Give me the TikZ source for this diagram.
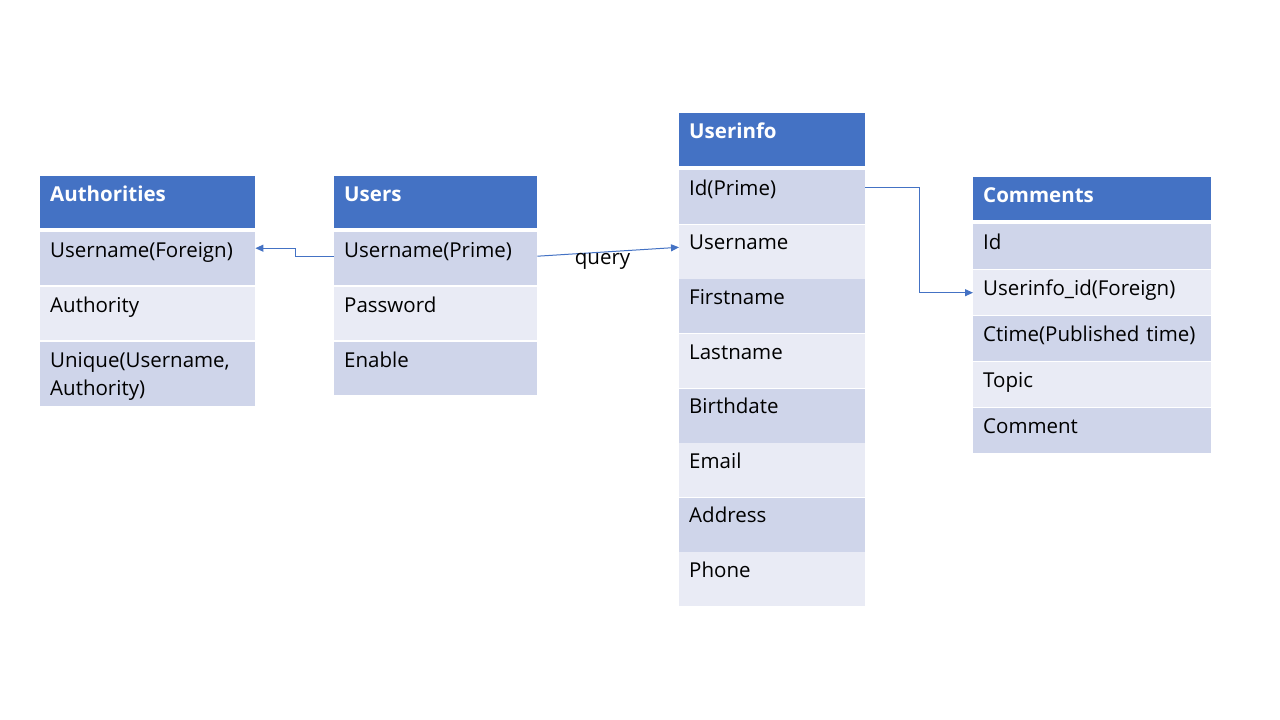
\documentclass[tikz,border=0pt]{standalone}
\usepackage{fontspec}
\setmainfont{Open Sans}
\usetikzlibrary{positioning,
                arrows.meta}                % arrow tips

\definecolor{hdrblue}{HTML}{4472C4}
\definecolor{row1}{HTML}{CFD5EA}
\definecolor{row0}{HTML}{E9EBF5}

\tikzset{
  cell/.style={anchor=north west, inner xsep=10pt, inner ysep=0pt, align=left,
               text height=25pt, font=\fontsize{20.5}{28}\selectfont},
  head/.style={cell, fill=hdrblue, text=white, font=\fontsize{20.5}{28}\selectfont\bfseries},
  link/.style={draw=hdrblue, line width=1pt, -{Triangle[length=8pt,width=7pt]}},
}

\begin{document}
\begin{tikzpicture}[x=1pt, y=-1pt]
        \useasboundingbox[fill=white] (0,0) rectangle (1280,720);

        % Authorities
        \node[head, text width=195pt, text depth=27pt] (auth-h) at (40,176) {Authorities};
        \foreach \txt [count=\i] in {Username(Foreign), Authority}
        {
          \pgfmathtruncatemacro\r{mod(\i,2)}
          \node[cell, fill=row\r, text width=195pt, text depth=28pt] (auth-\i) at (40,{232+(\i-1)*55}) {\txt};
        }
        \node[cell, fill=row1, text width=195pt, text depth=39pt] (auth-3) at (40,342) {Unique(Username,\\Authority)};

        % Users
        \node[head, text width=183pt, text depth=27pt] (users-h) at (334,176) {Users};
        \foreach \txt [count=\i] in {Username(Prime), Password, Enable}
        {
          \pgfmathtruncatemacro\r{mod(\i,2)}
          \node[cell, fill=row\r, text width=183pt, text depth=28pt] (users-\i) at (334,{232+(\i-1)*55}) {\txt};
        }

        % Userinfo
        \node[head, text width=166pt, text depth=28pt] (info-h) at (679,113) {Userinfo};
        \foreach \txt [count=\i] in {Id(Prime), Username, Firstname, Lastname, Birthdate, Email, Address, Phone}
        {
          \pgfmathtruncatemacro\r{mod(\i,2)}
          \node[cell, fill=row\r, text width=166pt, text depth=29pt] (info-\i) at (679,{170+(\i-1)*54.6}) {\txt};
        }

        % Comments
        \node[head, text width=218pt, text depth=18pt] (comm-h) at (973,177) {Comments};
        \foreach \txt [count=\i] in {Id, Userinfo\_id(Foreign), Ctime(Published time), Topic, Comment}
        {
          \pgfmathtruncatemacro\r{mod(\i,2)}
          \node[cell, fill=row\r, text width=218pt, text depth=20pt] (comm-\i) at (973,{224+(\i-1)*46}) {\txt};
        }

        % links
        \draw[link] ([yshift=2.5pt]users-1.west) -- ++(-39,0) |- ([yshift=10.5pt]auth-1.east);
        \draw[link] ([yshift=2.5pt]users-1.east) -- node[pos=0.46, below, inner sep=0.5pt,
                    font=\fontsize{20.5}{28}\selectfont] (query) {query} ([yshift=4.5pt]info-2.west);
        \draw[link] ([yshift=10pt]info-1.east) -- ++(54,0) |- (comm-2.west);
\end{tikzpicture}
\end{document}
